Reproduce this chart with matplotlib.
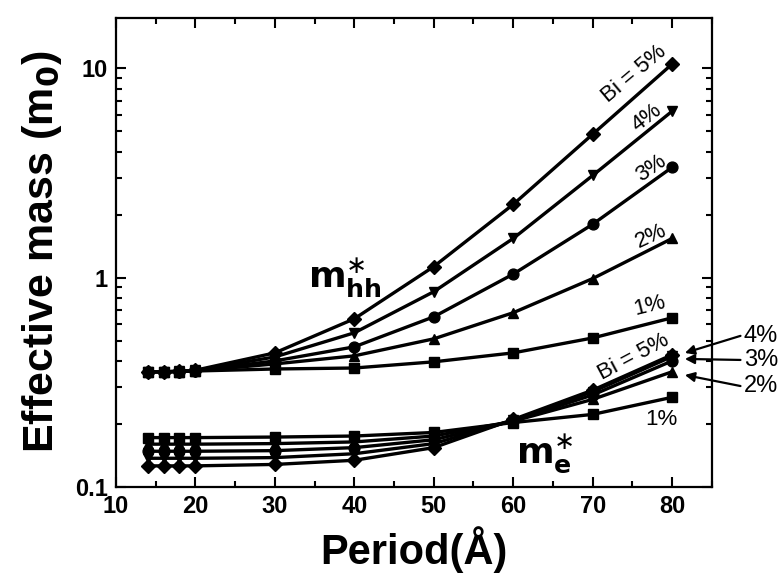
import matplotlib
matplotlib.use("Agg")
import matplotlib.pyplot as plt
from matplotlib.ticker import LogLocator, NullFormatter, FixedLocator, FixedFormatter, MultipleLocator

plt.rcParams['font.family'] = ['Liberation Sans Narrow', 'Liberation Sans', 'DejaVu Sans']
plt.rcParams['mathtext.fontset'] = 'custom'
plt.rcParams['mathtext.rm'] = 'Liberation Sans Narrow'
plt.rcParams['mathtext.bf'] = 'Liberation Sans Narrow:bold'
plt.rcParams['mathtext.it'] = 'Liberation Sans Narrow:italic'

period = [14, 16, 18, 20, 30, 40, 50, 60, 70, 80]

# heavy-hole effective mass (m0)
hh_1 = [0.355, 0.355, 0.356, 0.358, 0.366, 0.370, 0.396, 0.437, 0.515, 0.643]
hh_2 = [0.355, 0.355, 0.356, 0.358, 0.387, 0.423, 0.510, 0.680, 0.990, 1.54]
hh_3 = [0.355, 0.355, 0.356, 0.359, 0.400, 0.467, 0.650, 1.04, 1.80, 3.37]
hh_4 = [0.355, 0.355, 0.357, 0.360, 0.418, 0.545, 0.857, 1.54, 3.08, 6.25]
hh_5 = [0.355, 0.355, 0.357, 0.361, 0.437, 0.636, 1.13, 2.24, 4.85, 10.5]

# electron effective mass (m0)
e_1 = [0.172, 0.172, 0.172, 0.172, 0.173, 0.175, 0.182, 0.203, 0.222, 0.268]
e_2 = [0.160, 0.160, 0.160, 0.160, 0.161, 0.164, 0.175, 0.206, 0.262, 0.355]
e_3 = [0.148, 0.148, 0.148, 0.148, 0.149, 0.154, 0.168, 0.207, 0.275, 0.400]
e_4 = [0.137, 0.137, 0.137, 0.137, 0.138, 0.144, 0.161, 0.208, 0.285, 0.420]
e_5 = [0.126, 0.126, 0.126, 0.126, 0.128, 0.134, 0.154, 0.210, 0.290, 0.428]

markers = ['s', '^', 'o', 'v', 'D']
hh_series = [hh_1, hh_2, hh_3, hh_4, hh_5]
e_series = [e_1, e_2, e_3, e_4, e_5]

fig = plt.figure(figsize=(7.78, 5.88), dpi=100)
ax = fig.add_axes([0.149, 0.172, 0.766, 0.798])

for group in (hh_series, e_series):
    for ys, m in zip(group, markers):
        ms = 6.8 if m == 'D' else 7.8
        ax.plot(period, ys, color='black', lw=2.4, marker=m, ms=ms, mfc='black', mec='black')

ax.set_yscale('log')
ax.set_xlim(10, 85)
ax.set_ylim(0.1, 17.5)

ax.set_xticks([10, 20, 30, 40, 50, 60, 70, 80])
ax.xaxis.set_minor_locator(MultipleLocator(5))
ax.yaxis.set_major_locator(FixedLocator([0.1, 1, 10]))
ax.yaxis.set_major_formatter(FixedFormatter(['0.1', '1', '10']))
ax.yaxis.set_minor_locator(LogLocator(base=10, subs=range(2, 10)))
ax.yaxis.set_minor_formatter(NullFormatter())

ax.tick_params(which='both', direction='in', top=True, right=True, width=1.5)
ax.tick_params(which='major', length=7, labelsize=17, pad=6)
ax.tick_params(which='minor', length=4)
for lab in ax.get_xticklabels() + ax.get_yticklabels():
    lab.set_fontweight('bold')
for sp in ax.spines.values():
    sp.set_linewidth(1.6)

ax.set_xlabel('Period(Å)', fontsize=30, fontweight='bold', labelpad=6)
ax.set_ylabel(r'Effective mass (m$_\mathbf{0}$)', fontsize=31, fontweight='bold', labelpad=8)

# line labels
tfs = 16
tfam = ['Liberation Sans', 'DejaVu Sans']
ax.text(75.2, 9.4, 'Bi = 5%', fontsize=tfs, family=tfam, rotation=40, ha='center', va='center')
ax.text(76.8, 5.8, '4%', fontsize=tfs, family=tfam, rotation=38, ha='center', va='center')
ax.text(77.3, 3.33, '3%', fontsize=tfs, family=tfam, rotation=35, ha='center', va='center')
ax.text(77.3, 1.57, '2%', fontsize=tfs, family=tfam, rotation=25, ha='center', va='center')
ax.text(77.2, 0.734, '1%', fontsize=tfs, family=tfam, rotation=14, ha='center', va='center')

ax.text(75.2, 0.418, 'Bi = 5%', fontsize=tfs, family=tfam, rotation=28, ha='center', va='center')
ax.text(78.7, 0.211, '1%', fontsize=tfs, family=tfam, ha='center', va='center')

def ypix(py):
    return 10 ** ((279 - py) / 208.5)

for lbl, pyt, pyh in [('4%', 337, 354), ('3%', 361, 360), ('2%', 387, 376)]:
    ax.annotate('', xy=(81.6, ypix(pyh)), xytext=(88.6, ypix(pyt)),
                arrowprops=dict(arrowstyle='-|>', color='black', lw=1.6,
                                mutation_scale=14, shrinkA=0, shrinkB=0),
                annotation_clip=False)
    ax.text(89.0, ypix(pyt), lbl, fontsize=tfs + 1, family=tfam, ha='left', va='center', clip_on=False)

ax.text(38.8, 1.0, r'$\mathbf{m}^{\ast}_{\mathbf{hh}}$', fontsize=26, ha='center', va='center')
ax.text(64.0, 0.145, r'$\mathbf{m}^{\ast}_{\mathbf{e}}$', fontsize=26, ha='center', va='center')

fig.savefig('out.png', dpi=100)
